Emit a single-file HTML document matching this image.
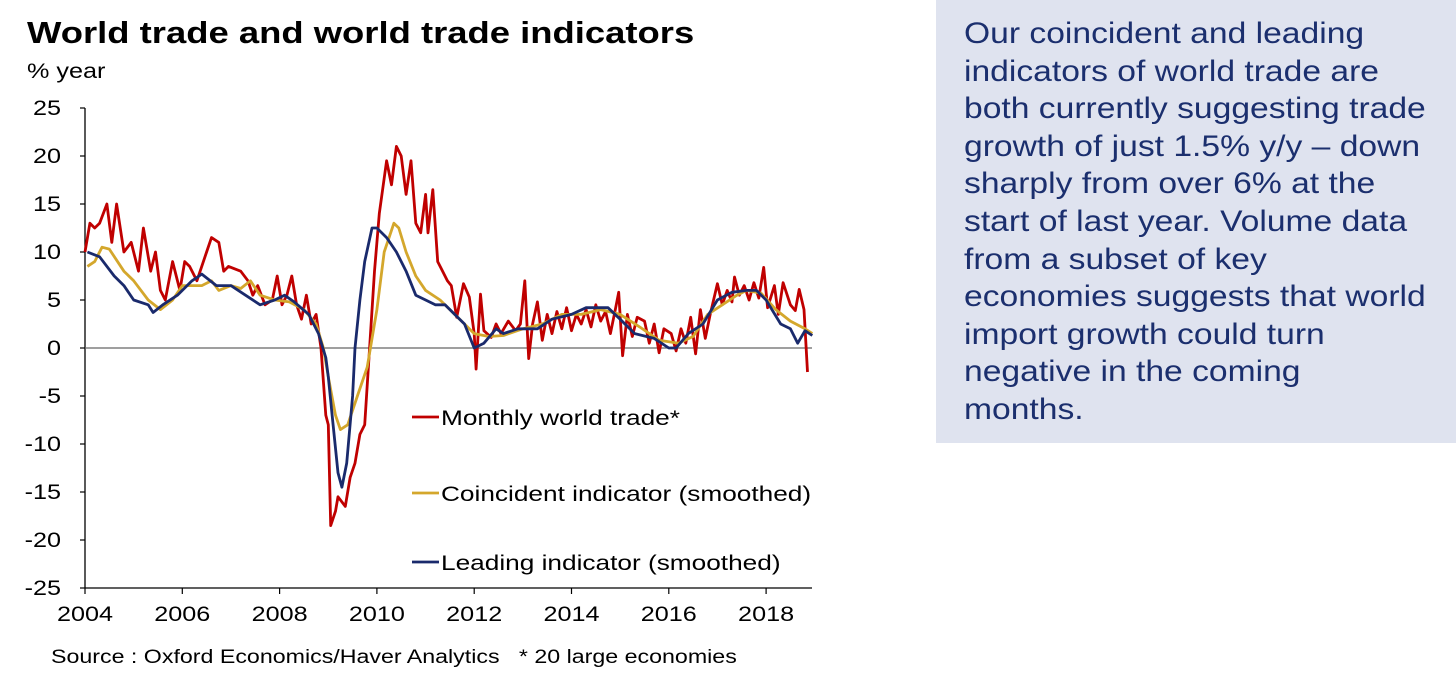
<!DOCTYPE html>
<html><head><meta charset="utf-8"><style>
body{margin:0;width:1456px;height:686px;background:#fff;overflow:hidden;font-family:"Liberation Sans",Arial,sans-serif;position:relative}
#title{position:absolute;left:27px;top:15px;font-size:31px;font-weight:bold;color:#000;transform:scaleX(1.175);transform-origin:left top;white-space:nowrap}
#unit{position:absolute;left:27px;top:60px;font-size:21px;color:#000;transform:scaleX(1.2);transform-origin:left top}
#panel{position:absolute;left:936px;top:0;width:520px;height:443px;background:#dfe3ef}
#ptext{position:absolute;left:964px;top:15px;font-size:29.5px;line-height:37.6px;color:#1b2f6e;white-space:nowrap;transform:scaleX(1.14);transform-origin:left top}
svg{position:absolute;left:0;top:0}
</style></head><body>
<div id="title">World trade and world trade indicators</div>
<div id="unit">% year</div>
<div id="panel"></div>
<div id="ptext">Our coincident and leading<br>indicators of world trade are<br>both currently suggesting trade<br>growth of just 1.5% y/y – down<br>sharply from over 6% at the<br>start of last year. Volume data<br>from a subset of key<br>economies suggests that world<br>import growth could turn<br>negative in the coming<br>months.</div>
<svg id="chart" width="1456" height="686"></svg>
<script>
const yTicks=[25,20,15,10,5,0,-5,-10,-15,-20,-25];
const xTicks=[2004,2006,2008,2010,2012,2014,2016,2018];
const tradeX=[2004.0,2004.1,2004.2,2004.3,2004.45,2004.55,2004.65,2004.8,2004.95,2005.1,2005.2,2005.35,2005.45,2005.55,2005.65,2005.8,2005.95,2006.05,2006.15,2006.3,2006.5,2006.6,2006.75,2006.85,2006.95,2007.2,2007.35,2007.45,2007.55,2007.7,2007.85,2007.95,2008.05,2008.15,2008.25,2008.35,2008.45,2008.55,2008.65,2008.75,2008.85,2008.95,2009.0,2009.05,2009.15,2009.2,2009.35,2009.45,2009.55,2009.65,2009.75,2009.85,2009.95,2010.05,2010.2,2010.3,2010.4,2010.5,2010.6,2010.7,2010.8,2010.9,2011.0,2011.05,2011.15,2011.25,2011.33,2011.45,2011.53,2011.64,2011.78,2011.9,2012.0,2012.04,2012.13,2012.2,2012.35,2012.45,2012.55,2012.7,2012.85,2012.95,2013.04,2013.12,2013.2,2013.3,2013.4,2013.5,2013.6,2013.7,2013.8,2013.9,2014.0,2014.1,2014.2,2014.3,2014.4,2014.5,2014.6,2014.7,2014.8,2014.9,2014.97,2015.05,2015.15,2015.25,2015.35,2015.5,2015.6,2015.7,2015.8,2015.9,2016.05,2016.15,2016.25,2016.35,2016.45,2016.55,2016.65,2016.75,2016.85,2017.0,2017.1,2017.2,2017.3,2017.35,2017.45,2017.55,2017.65,2017.75,2017.85,2017.95,2018.03,2018.17,2018.25,2018.35,2018.5,2018.6,2018.68,2018.78,2018.85,2018.95];
const tradeV=[10,13,12.5,13,15,11,15,10,11,8,12.5,8,10,6,5,9,6,9,8.5,7,10,11.5,11,8,8.5,8,7,5.5,6.5,4.5,5,7.5,4.5,5.5,7.5,4.5,3,5.5,2.5,3.5,0,-7,-8,-18.5,-17,-15.5,-16.5,-13.5,-12,-9,-8,0,8,14,19.5,17,21,20,16,19.5,13,12,16,12,16.5,9,8.2,7,6.5,3.2,6.7,5.3,1.5,-2.2,5.6,1.8,1.1,2.5,1.5,2.8,1.8,2.5,7,-1.1,2.5,4.8,0.8,3.5,1.5,3.8,2,4.2,1.8,3.5,2.5,4,2.2,4.5,2.8,3.8,1.5,4,5.8,-0.8,3.5,1.2,3.2,2.8,0.5,2.5,-0.5,2,1.5,-0.3,2,0.5,3.2,-0.6,4,1,3.5,6.7,4.5,6,4.8,7.4,5.5,6.5,5,6.8,5.2,8.4,4.2,6.5,3.5,6.8,4.5,3.9,6.1,4,-2.5];
const leadX=[2004.05,2004.3,2004.6,2004.8,2005.0,2005.3,2005.4,2005.6,2005.9,2006.2,2006.4,2006.7,2007.0,2007.3,2007.6,2007.9,2008.1,2008.3,2008.6,2008.8,2008.95,2009.0,2009.1,2009.2,2009.28,2009.38,2009.5,2009.55,2009.65,2009.75,2009.9,2010.0,2010.2,2010.4,2010.6,2010.8,2011.0,2011.2,2011.4,2011.6,2011.8,2012.0,2012.2,2012.45,2012.6,2012.9,2013.3,2013.6,2014.0,2014.3,2014.75,2015.0,2015.3,2015.7,2016.0,2016.15,2016.4,2016.7,2017.0,2017.3,2017.6,2017.8,2018.0,2018.3,2018.5,2018.65,2018.8,2018.95];
const leadV=[10,9.5,7.5,6.5,5,4.5,3.7,4.5,5.5,7,7.7,6.5,6.5,5.5,4.5,5,5.5,4.8,3.5,1.5,-1,-3,-8,-13,-14.5,-12,-5,0,5,9,12.5,12.5,11.5,10,8,5.5,5,4.5,4.5,3.5,2.5,0,0.5,2,1.5,2,2,3,3.5,4.2,4.2,3,1.5,1,0,0,1.5,2.5,5,5.8,6,6,5,2.5,2,0.5,1.8,1.3];
const coinX=[2004.05,2004.2,2004.35,2004.5,2004.8,2005.0,2005.3,2005.55,2005.8,2006.0,2006.4,2006.6,2006.75,2007.0,2007.2,2007.4,2007.6,2007.9,2008.2,2008.5,2008.75,2008.9,2009.0,2009.15,2009.25,2009.4,2009.6,2009.8,2010.0,2010.15,2010.35,2010.45,2010.6,2010.8,2011.0,2011.3,2011.6,2011.8,2012.0,2012.3,2012.6,2013.0,2013.4,2013.8,2014.2,2014.6,2015.0,2015.4,2015.8,2016.2,2016.5,2016.8,2017.1,2017.4,2017.6,2017.9,2018.2,2018.5,2018.8,2018.95];
const coinV=[8.5,9,10.5,10.3,8,7,5,4,5,6.5,6.5,7,6,6.5,6.2,7,5.5,5,4.8,4,2.5,0,-3,-7,-8.5,-8,-5,-2,4,10,13,12.5,10,7.5,6,5,3.5,2.5,1.5,1.2,1.3,2,2.5,3.5,3.5,4,3.5,2.2,0.8,0.5,1.2,3.5,4.5,5.5,6,5.7,4,2.8,2,1.5];
const NS='http://www.w3.org/2000/svg';
const svg=document.getElementById('chart');
const X=y=>85+(y-2004)*48.65, Y=v=>348-v*9.6;
function mk(t,a){const e=document.createElementNS(NS,t);for(const k in a)e.setAttribute(k,a[k]);svg.appendChild(e);return e;}
function stretch(e,x,f){e.setAttribute('transform','translate('+x+',0) scale('+f+',1) translate('+(-x)+',0)');}
let ax=mk('line',{x1:85,y1:108,x2:85,y2:588,stroke:'#000','stroke-width':1.3});


let bx=mk('line',{x1:85,y1:588,x2:812,y2:588,stroke:'#000','stroke-width':1.3});


let zl=mk('line',{x1:85,y1:Y(0),x2:812,y2:Y(0),stroke:'#666','stroke-width':1.2});


yTicks.forEach(v=>{
 mk('line',{x1:80,y1:Y(v),x2:85,y2:Y(v),stroke:'#000','stroke-width':1.2});
 const t=mk('text',{x:61,y:Y(v)+7,'text-anchor':'end','font-size':21,fill:'#000'});t.textContent=v;
 stretch(t,61,1.2);
 
 
});
xTicks.forEach(v=>{
 mk('line',{x1:X(v),y1:588,x2:X(v),y2:594,stroke:'#000','stroke-width':1.2});
 const t=mk('text',{x:X(v),y:621,'text-anchor':'middle','font-size':21,fill:'#000'});t.textContent=v;
 stretch(t,X(v),1.2);
 
 
});
function series(xs,vs,col,name){
 const p=mk('polyline',{points:xs.map((x,i)=>X(x).toFixed(1)+','+Y(vs[i]).toFixed(1)).join(' '),fill:'none',stroke:col,'stroke-width':2.8,'stroke-linejoin':'round'});
 
 
}
series(tradeX,tradeV,'#c00000','monthly-world-trade-line');
series(coinX,coinV,'#d4a72c','coincident-indicator-line');
series(leadX,leadV,'#1a2a6c','leading-indicator-line');
const legend=[['Monthly world trade*','#c00000',417],['Coincident indicator (smoothed)','#d4a72c',493],['Leading indicator (smoothed)','#1a2a6c',562]];
legend.forEach(l=>{
 const ln=mk('line',{x1:412,y1:l[2],x2:439,y2:l[2],stroke:l[1],'stroke-width':2.8});
 
 
 const t=mk('text',{x:441,y:l[2]+8,'font-size':21.5,fill:'#000'});t.textContent=l[0];
 stretch(t,441,1.22);
 
 
});
const s=mk('text',{x:51,y:663,'font-size':19.5,fill:'#000'});s.textContent='Source : Oxford Economics/Haver Analytics   * 20 large economies';
stretch(s,51,1.19);


s.style.whiteSpace='pre';
</script>
</body></html>
